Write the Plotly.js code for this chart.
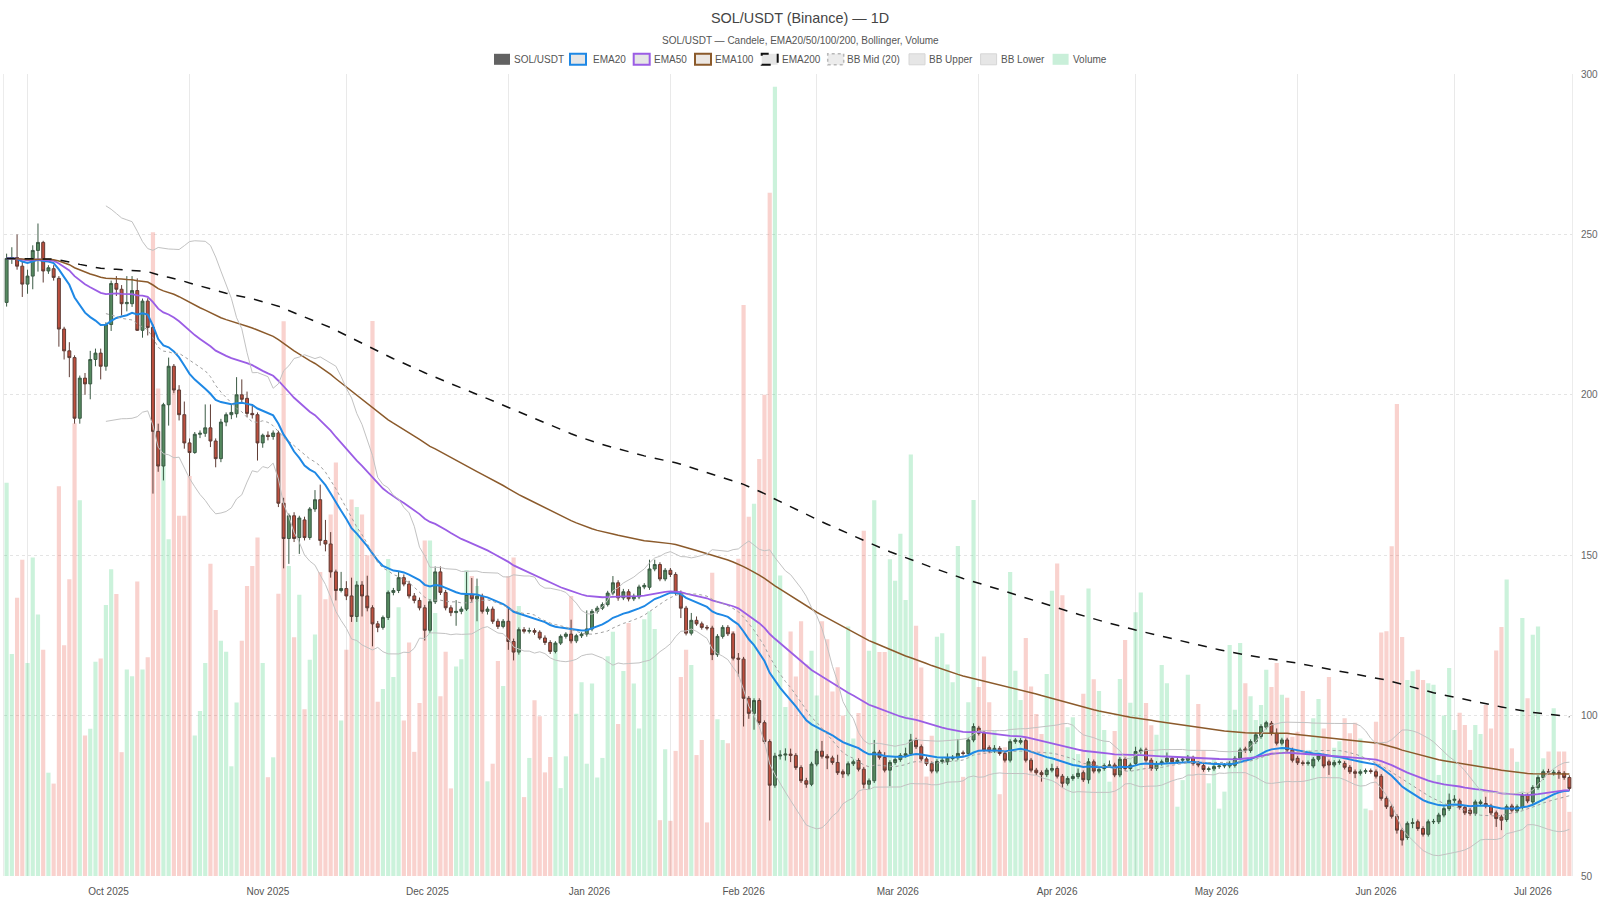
<!DOCTYPE html>
<html>
<head>
<meta charset="utf-8">
<script src="https://cdn.plot.ly/plotly-3.0.1.min.js"></script>
<style>html,body{margin:0;padding:0;background:#fff}#chart{width:1600px;height:900px}</style>
</head>
<body>
<div id="chart"></div>
<script>
// Daily candles, first bar 2025-09-27
const firstDay = '2025-09-27';
const open = [
228.8,242.5,242.8,240.1,234.5,237.0,245.0,247.5,238.6,239.3,
236.3,220.5,213.7,211.6,192.7,205.2,203.4,211.0,213.0,208.9,
221.9,234.7,232.9,228.4,228.4,232.5,220.1,229.2,221.0,188.6,
177.8,196.9,208.9,201.5,193.8,185.0,182.0,187.7,188.0,189.7,
185.6,180.1,191.5,193.8,194.1,200.0,198.9,194.2,193.8,185.0,
187.4,187.0,188.1,166.2,155.2,162.3,155.5,161.0,155.5,164.4,
167.3,154.6,153.5,144.8,139.0,139.6,137.3,130.9,140.7,137.3,
133.6,128.6,127.5,130.6,138.4,139.0,143.0,141.0,137.3,135.9,
133.6,126.6,135.5,144.8,138.4,133.6,132.1,132.5,133.2,137.8,
136.4,137.2,132.5,133.2,129.4,127.8,129.4,123.1,119.8,126.8,
126.3,126.5,126.0,124.2,122.8,120.0,122.6,124.7,125.4,123.3,
124.9,125.4,127.0,132.5,133.5,134.6,138.2,141.4,136.7,138.6,
136.4,137.0,140.1,140.0,145.7,147.1,142.6,145.3,144.0,138.2,
133.5,125.7,129.7,128.6,127.5,127.3,119.0,124.7,127.5,125.5,
117.9,117.6,105.4,100.7,104.7,97.8,91.9,78.3,87.4,87.7,
88.0,87.6,83.8,79.7,78.6,84.9,88.9,87.3,86.8,85.4,
82.5,81.8,85.0,86.0,83.3,78.6,79.7,88.6,87.0,83.0,
85.4,86.3,87.6,88.1,92.4,90.3,86.5,85.0,82.7,85.7,
85.6,86.6,86.9,88.4,88.2,92.4,96.1,94.5,90.0,89.0,
89.8,88.2,86.1,91.9,91.7,92.2,86.1,83.0,82.2,81.6,
83.0,83.5,81.1,78.9,80.4,81.0,82.2,80.0,85.6,82.7,
83.5,84.4,84.6,81.5,86.4,83.5,85.1,88.8,89.3,86.1,
83.5,85.1,85.6,86.7,85.6,86.1,86.1,87.0,85.1,84.4,
83.2,83.4,84.1,84.3,84.3,84.5,86.7,89.6,89.1,91.9,
93.5,96.4,97.6,94.5,91.4,92.4,89.3,86.7,85.3,85.1,
84.3,86.4,87.4,85.6,84.6,85.4,85.1,83.9,82.5,82.0,
82.5,82.8,82.5,81.1,74.2,71.6,68.6,64.3,62.0,66.4,
66.9,64.8,63.0,66.9,66.9,69.0,71.0,73.6,73.4,71.4,
70.5,69.5,72.6,72.6,71.8,69.7,68.4,67.6,71.8,70.3,
71.4,75.2,73.1,77.6,80.7,82.5,82.0,82.3,82.0,80.7
];
const high = [
244.0,246.0,250.0,241.8,239.0,246.6,253.4,248.0,240.4,240.4,
237.0,221.2,216.4,212.3,206.0,206.8,213.7,214.4,214.4,222.6,
235.6,237.0,234.2,237.0,237.0,236.3,230.0,230.1,221.9,191.0,
197.5,211.6,209.6,203.0,197.9,186.4,188.4,188.9,197.0,197.0,
186.4,192.5,194.5,197.0,205.5,204.8,201.0,196.6,194.5,187.9,
188.6,188.9,188.8,167.9,163.0,163.4,162.3,162.0,165.0,170.3,
172.0,161.0,157.2,145.5,144.8,141.9,143.0,141.9,141.9,143.6,
134.4,129.5,131.2,139.0,139.8,144.8,144.0,142.0,138.2,136.8,
134.5,136.3,146.5,146.5,139.2,134.4,136.0,134.0,144.8,142.9,
142.7,138.0,134.0,134.0,130.2,130.1,133.6,124.0,127.5,127.6,
127.4,127.2,126.6,125.0,123.5,123.2,125.3,126.0,129.9,125.5,
126.0,132.8,133.2,134.2,135.3,138.9,143.5,142.2,139.5,139.4,
138.0,140.8,141.3,148.6,148.6,147.8,146.0,146.0,144.7,139.0,
134.2,132.0,130.9,129.3,128.2,128.0,125.4,128.2,128.2,126.2,
119.5,118.3,106.1,105.4,105.4,98.5,92.6,88.4,89.2,89.8,
89.7,88.3,84.5,80.6,85.6,89.6,92.1,88.0,87.5,87.8,
83.2,85.7,86.3,86.7,84.0,80.4,92.4,89.3,88.6,86.1,
87.0,88.3,90.0,94.3,93.1,91.0,87.2,85.7,86.4,87.0,
88.2,87.7,92.7,89.1,93.1,97.6,96.8,95.2,90.7,90.8,
90.5,88.9,92.6,93.0,93.0,92.9,86.8,83.7,82.9,83.7,
85.0,84.2,81.8,81.1,81.7,83.5,82.9,86.7,86.3,84.0,
85.1,86.0,85.3,87.1,87.1,85.3,90.3,90.0,90.0,86.8,
85.8,86.3,88.5,87.4,86.8,87.1,87.7,87.5,85.8,85.1,
84.1,84.8,85.0,85.2,85.8,87.4,90.0,90.3,92.6,94.7,
97.3,98.4,98.3,96.0,93.1,93.1,90.0,87.4,86.0,86.0,
87.1,88.1,88.1,86.3,86.1,86.3,85.8,84.6,83.2,83.2,
83.5,83.5,83.2,81.8,74.9,72.3,69.3,65.0,67.0,68.0,
67.6,65.5,67.6,67.8,69.7,71.7,75.7,75.2,74.1,72.1,
71.2,73.8,73.8,74.7,72.5,70.4,69.1,72.3,72.5,72.3,
75.9,75.9,78.3,81.4,83.2,83.4,83.1,83.0,82.7,81.4
];
const low = [
227.5,240.8,239.0,230.5,231.5,232.9,238.4,235.0,237.7,235.6,
215.0,211.0,205.5,191.0,191.0,200.0,198.6,208.9,204.8,207.5,
219.9,230.8,224.7,226.0,227.4,219.9,217.8,218.5,169.2,176.0,
173.3,190.4,200.5,192.0,183.2,174.7,181.6,186.5,186.9,183.7,
177.4,179.0,190.2,192.4,192.9,197.5,193.0,192.6,179.5,183.5,
185.8,186.0,165.0,145.9,147.3,154.1,150.4,154.6,154.8,163.5,
153.0,151.2,143.0,135.9,138.4,136.0,129.2,129.2,130.9,132.5,
121.6,126.0,126.8,129.8,137.5,138.2,140.3,136.5,135.0,132.8,
123.4,125.8,134.8,137.6,132.8,131.0,128.0,131.6,132.6,135.5,
129.4,131.8,131.5,128.6,127.0,127.2,120.5,117.2,119.0,125.6,
125.6,125.2,123.6,122.0,119.2,119.4,122.0,124.0,122.5,122.6,
124.2,124.6,126.3,131.8,132.9,134.0,137.5,135.8,136.0,135.6,
135.7,136.3,139.4,139.2,145.0,141.9,141.9,143.2,137.5,130.4,
125.0,125.0,128.0,126.8,126.6,117.3,118.3,124.0,124.8,117.2,
112.2,96.6,99.0,95.6,97.1,91.2,67.3,77.5,86.3,86.0,
85.5,83.1,79.0,77.5,78.0,84.2,86.6,83.3,84.7,81.5,
80.6,81.1,84.3,82.6,77.3,77.0,79.0,86.3,82.3,78.0,
84.7,85.6,86.9,87.4,89.6,85.8,84.3,82.0,82.0,85.0,
84.6,86.0,86.2,87.5,87.5,91.7,93.8,88.6,88.3,88.4,
87.5,85.4,85.4,91.2,91.0,85.4,82.3,81.5,79.4,80.9,
82.3,80.4,77.5,78.2,79.7,80.3,79.3,78.8,82.0,82.0,
82.8,83.7,80.8,80.8,82.8,82.8,84.4,88.1,85.4,82.8,
82.8,84.4,84.9,84.9,84.9,85.4,85.4,84.4,83.9,82.5,
82.5,82.7,83.4,83.6,83.6,83.8,86.0,88.4,88.4,91.2,
92.8,95.7,93.8,90.7,90.7,88.6,85.4,84.6,84.4,84.4,
83.6,85.7,83.6,81.5,83.9,84.7,83.2,81.8,80.5,81.3,
81.8,81.9,80.4,73.5,70.9,67.9,63.2,59.5,61.3,64.9,
64.1,62.3,62.3,66.2,66.2,68.3,70.3,72.8,70.7,69.0,
68.8,68.8,71.9,71.1,69.0,65.3,64.3,66.9,69.8,69.6,
70.7,72.7,72.4,76.9,80.0,81.7,81.3,80.3,80.0,76.6
];
const close = [
242.5,242.8,240.1,234.5,237.0,245.0,247.5,238.6,239.6,236.6,
220.5,213.7,211.6,192.7,205.2,203.4,211.0,213.0,208.9,221.9,
234.7,232.9,228.4,228.8,232.5,220.1,229.2,221.0,188.6,177.8,
196.9,208.9,201.5,193.8,185.0,182.0,187.7,188.0,189.7,185.6,
180.1,191.5,193.8,194.5,200.0,198.6,194.2,193.8,185.0,187.4,
187.0,188.1,166.2,155.2,162.3,155.2,161.6,155.5,164.4,167.3,
154.6,153.5,144.8,139.0,139.6,137.3,130.9,140.7,137.3,133.6,
128.6,127.5,130.6,138.4,139.0,143.0,141.0,137.3,135.9,133.6,
126.6,135.5,144.8,138.4,133.6,132.1,132.5,133.2,137.8,136.4,
137.2,132.5,133.2,129.4,127.8,129.4,123.1,119.8,126.8,126.3,
126.5,126.0,124.2,122.8,120.0,122.6,124.7,125.4,123.3,124.9,
125.4,127.0,132.5,133.5,134.6,138.2,141.4,136.7,138.6,136.4,
137.2,140.1,140.6,145.7,147.1,142.6,145.3,144.0,138.2,133.5,
125.7,129.7,128.6,127.5,127.3,119.0,124.7,127.5,125.5,117.9,
117.6,105.4,100.7,104.7,97.8,91.9,78.3,87.4,87.7,88.0,
87.6,83.8,79.7,78.6,84.9,88.9,87.3,86.8,85.4,82.2,
81.8,85.0,85.6,83.3,78.6,79.7,88.6,87.0,83.0,85.4,
86.3,87.6,88.1,92.4,90.3,86.5,85.0,82.7,85.7,86.1,
86.9,87.0,88.2,88.2,92.4,96.6,94.5,89.3,89.0,89.8,
88.2,86.1,91.9,92.4,92.2,86.1,83.0,82.2,81.6,83.0,
83.5,81.1,78.9,80.4,81.0,82.0,80.0,85.6,82.7,83.2,
84.4,84.6,81.5,86.4,83.5,84.6,88.8,89.3,86.1,83.5,
85.1,85.6,86.7,85.6,86.1,86.4,87.0,85.1,84.6,83.2,
83.4,84.1,84.3,84.5,85.1,86.7,89.3,89.1,91.9,94.0,
96.6,97.8,94.5,91.4,92.4,89.3,86.1,85.3,85.1,85.3,
86.4,87.4,84.3,84.6,85.4,85.6,83.9,82.5,82.0,82.5,
82.8,82.6,81.1,74.2,71.6,68.6,64.3,61.2,66.4,66.6,
64.8,63.0,66.9,67.0,69.0,71.0,73.6,73.9,71.4,69.7,
69.5,73.1,73.1,71.8,69.7,67.9,67.4,71.6,70.5,71.6,
75.2,73.4,77.6,80.7,82.5,82.4,82.3,82.0,80.7,77.3
];
// traded volume (relative units)
const volume = [
122.6,69.2,86.7,98.6,66.4,99.3,81.5,70.5,32.2,28.8,
121.5,71.9,92.5,141.1,117.1,43.8,45.9,66.8,67.8,84.5,
95.6,87.9,38.6,64.4,62.3,91.8,64.4,68.2,200.7,152.0,
130.1,105.0,158.9,112.3,112.3,124.7,43.8,51.4,66.4,97.3,
82.9,73.3,69.9,34.2,54.1,73.3,90.4,96.6,105.5,66.4,
30.8,37.0,88.0,172.9,96.6,74.4,87.7,52.0,67.4,75.3,
94.8,86.3,112.7,128.9,48.5,70.5,117.4,115.0,112.7,100.0,
173.0,54.3,58.3,98.8,62.0,83.8,48.5,72.8,38.7,53.9,
104.6,104.6,82.0,56.0,69.9,27.3,65.3,67.6,95.4,93.5,
90.4,85.2,29.5,35.0,67.0,59.2,93.5,99.3,84.2,24.6,
36.8,54.8,49.8,32.3,37.1,72.7,27.4,37.3,87.3,50.6,
60.4,35.0,60.0,30.7,36.8,68.5,76.1,47.4,63.9,78.9,
60.0,46.0,80.0,82.5,77.0,17.4,39.5,17.2,39.0,62.0,
70.5,65.8,37.7,42.4,16.7,94.5,48.9,42.4,41.4,76.3,
98.9,178.0,112.0,116.0,130.0,150.0,213.0,246.0,93.7,52.7,
76.2,62.2,79.4,65.9,70.2,56.3,79.4,73.8,57.5,65.1,
50.0,77.8,42.9,50.8,107.6,70.2,117.1,69.8,69.8,98.7,
92.0,106.7,86.0,131.4,78.0,65.0,31.0,43.7,74.6,75.7,
65.9,60.4,102.9,30.9,54.2,117.2,58.9,68.4,54.2,45.3,
25.5,40.1,94.8,64.0,54.9,74.2,59.1,50.5,44.3,63.0,
88.9,97.4,87.5,46.4,49.5,38.0,56.8,89.6,61.3,57.7,
45.5,29.4,45.2,61.4,73.6,54.0,82.2,88.4,53.9,47.0,
44.0,65.8,60.1,36.0,21.6,29.9,62.7,36.7,53.6,39.3,
28.9,36.7,21.0,26.3,72.0,51.8,72.6,60.1,56.0,48.6,
53.3,64.3,58.9,66.4,56.5,55.6,43.4,45.0,57.7,39.3,
49.2,55.2,46.0,62.0,40.0,42.0,49.2,44.5,47.8,42.9,
21.0,20.5,48.1,75.9,76.3,102.8,147.1,74.5,61.1,63.8,
64.3,61.1,60.1,59.6,31.5,50.0,64.8,45.5,50.9,47.1,
39.3,47.1,44.3,53.3,46.0,70.3,77.6,92.4,39.8,35.6,
80.4,55.4,75.2,77.8,36.7,38.8,52.3,38.8,38.8,20.0
];

// legend entries (names shown in the legend row)
const legendNames = ['SOL/USDT', 'EMA20', 'EMA50', 'EMA100', 'EMA200', 'BB Mid (20)', 'BB Upper', 'BB Lower', 'Volume'];

// dates (one bar per day)
const dates = [];
(function(){
  const d0 = new Date(firstDay + 'T00:00:00Z');
  for (let i = 0; i < close.length; i++) {
    const d = new Date(d0.getTime() + i * 86400000);
    dates.push(d.toISOString().slice(0, 10));
  }
})();

function ema(values, span) {
  const a = 2 / (span + 1);
  const out = [];
  let prev = values[0];
  for (let i = 0; i < values.length; i++) {
    prev = i === 0 ? values[0] : a * values[i] + (1 - a) * prev;
    out.push(prev);
  }
  return out;
}
function bollinger(values, n, k) {
  const mid = [], up = [], lo = [];
  for (let i = 0; i < values.length; i++) {
    if (i < n - 1) { mid.push(null); up.push(null); lo.push(null); continue; }
    let s = 0;
    for (let j = i - n + 1; j <= i; j++) s += values[j];
    const m = s / n;
    let v = 0;
    for (let j = i - n + 1; j <= i; j++) v += (values[j] - m) * (values[j] - m);
    const sd = Math.sqrt(v / (n - 1));
    mid.push(m); up.push(m + k * sd); lo.push(m - k * sd);
  }
  return {mid, up, lo};
}

const ema20 = ema(close, 20), ema50 = ema(close, 50), ema100 = ema(close, 100), ema200 = ema(close, 200);
const bb = bollinger(close, 20, 2);
const volColors = close.map((c, i) => c >= open[i] ? 'rgba(46,204,113,0.25)' : 'rgba(231,76,60,0.25)');

const C = {
  ema20: '#1e88e5', ema50: '#9b5de5', ema100: '#8b5a2b', ema200: '#111111',
  bbMid: '#a0a0a0', bbBand: '#c2c2c2'
};

const traces = [
  {type: 'bar', x: dates, y: volume, name: legendNames[8], yaxis: 'y', marker: {color: volColors, line: {width: 0}}, hoverinfo: 'x+y+name'},
  {type: 'candlestick', x: dates, open: open, high: high, low: low, close: close, name: legendNames[0], yaxis: 'y2',
   increasing: {fillcolor: '#55895f', line: {color: '#3b5a44', width: 1}},
   decreasing: {fillcolor: '#bd4f3e', line: {color: '#5f3c35', width: 1}}, whiskerwidth: 0},
  {type: 'scatter', mode: 'lines', x: dates, y: ema20, name: legendNames[1], yaxis: 'y2', line: {color: C.ema20, width: 2}},
  {type: 'scatter', mode: 'lines', x: dates, y: ema50, name: legendNames[2], yaxis: 'y2', line: {color: C.ema50, width: 1.8}},
  {type: 'scatter', mode: 'lines', x: dates, y: ema100, name: legendNames[3], yaxis: 'y2', line: {color: C.ema100, width: 1.5}},
  {type: 'scatter', mode: 'lines', x: dates, y: ema200, name: legendNames[4], yaxis: 'y2', line: {color: C.ema200, width: 1.5, dash: 'dash'}},
  {type: 'scatter', mode: 'lines', x: dates, y: bb.mid, name: legendNames[5], yaxis: 'y2', line: {color: C.bbMid, width: 1, dash: 'dot'}},
  {type: 'scatter', mode: 'lines', x: dates, y: bb.up, name: legendNames[6], yaxis: 'y2', line: {color: C.bbBand, width: 1}},
  {type: 'scatter', mode: 'lines', x: dates, y: bb.lo, name: legendNames[7], yaxis: 'y2', line: {color: C.bbBand, width: 1}}
];

// ---- page geometry ----
const M = {l: 4, r: 28, t: 74, b: 24};
const W = 1600 - M.l - M.r, H = 900 - M.t - M.b;
const px = x => (x - M.l) / W;            // page px -> paper x
const py = y => (900 - M.b - y) / H;      // page px (from top) -> paper y

// legend row (icon box + label), laid out in page pixels
const legendY = 59.3;
const legendStyle = [
  {ix: 494,   tx: 513,   fill: '#626262', line: {width: 0}},
  {ix: 570,   tx: 591.7, fill: '#e6e6e6', line: {color: C.ema20, width: 2}},
  {ix: 633.7, tx: 652.7, fill: '#e6e6e6', line: {color: C.ema50, width: 2}},
  {ix: 695,   tx: 714.3, fill: '#ece7e3', line: {color: C.ema100, width: 2}},
  {ix: 761.7, tx: 780.5, fill: '#e6e6e6', line: {color: C.ema200, width: 2, dash: 'dash'}},
  {ix: 827.7, tx: 846,   fill: '#ececec', line: {color: '#b8b8b8', width: 1.5, dash: 'dot'}},
  {ix: 909,   tx: 928.3, fill: '#e6e6e6', line: {color: '#d6d6d6', width: 1}},
  {ix: 980.6, tx: 999.8, fill: '#e6e6e6', line: {color: '#d6d6d6', width: 1}},
  {ix: 1052.6,tx: 1072.2,fill: '#c9efd9', line: {width: 0}}
];
const shapes = [], annotations = [];
legendNames.forEach((name, k) => {
  const s = legendStyle[k];
  shapes.push({type: 'rect', xref: 'paper', yref: 'paper', layer: 'above',
    x0: px(s.ix), x1: px(s.ix + 16), y0: py(legendY + 5.5), y1: py(legendY - 5.5),
    fillcolor: s.fill, line: s.line});
  annotations.push({xref: 'paper', yref: 'paper', x: px(s.tx), y: py(legendY), xanchor: 'left', yanchor: 'middle',
    text: name, showarrow: false, font: {size: 10, color: '#555'}, borderpad: 0});
});
annotations.push({xref: 'paper', yref: 'paper', x: px(800), y: py(40.7), xanchor: 'center', yanchor: 'middle',
  text: 'SOL/USDT — Candele, EMA20/50/100/200, Bollinger, Volume', showarrow: false,
  font: {size: 10, color: '#555'}, borderpad: 0});

const layout = {
  width: 1600, height: 900,
  paper_bgcolor: '#ffffff', plot_bgcolor: '#ffffff',
  font: {family: 'Liberation Sans, Arial, sans-serif', size: 10, color: '#555'},
  margin: M,
  title: {
    text: 'SOL/USDT (Binance) — 1D',
    font: {size: 14.4, color: '#444'},
    x: 0.5, xanchor: 'center', yref: 'container', y: 1 - 18.3 / 900, yanchor: 'middle'
  },
  showlegend: false,
  bargap: 0.2,
  boxgap: 0.2,
  shapes: shapes,
  annotations: annotations,
  xaxis: {
    type: 'date', range: ['2025-09-26 12:00', '2026-07-23 12:00'],
    rangeslider: {visible: false},
    dtick: 'M1', tick0: '2025-10-01', ticklabelmode: 'period', tickformat: '%b %Y',
    showgrid: true, gridcolor: '#e9e9e9', gridwidth: 1, zeroline: false, showline: false,
    ticks: 'outside', ticklen: 6, tickcolor: 'rgba(0,0,0,0)',
    tickfont: {size: 10, color: '#555'}
  },
  yaxis: {range: [0, 250], visible: false, showgrid: false, zeroline: false, fixedrange: true},
  yaxis2: {
    overlaying: 'y', side: 'right', range: [50, 300], tick0: 50, dtick: 50,
    showgrid: true, gridcolor: '#e4e4e4', griddash: 'dot', zeroline: false,
    showline: true, mirror: true, linecolor: '#ececec',
    ticks: 'outside', ticklen: 6, tickcolor: 'rgba(0,0,0,0)',
    tickfont: {size: 10, color: '#666'}
  }
};

Plotly.newPlot('chart', traces, layout, {displayModeBar: false, responsive: false});
</script>
</body>
</html>
